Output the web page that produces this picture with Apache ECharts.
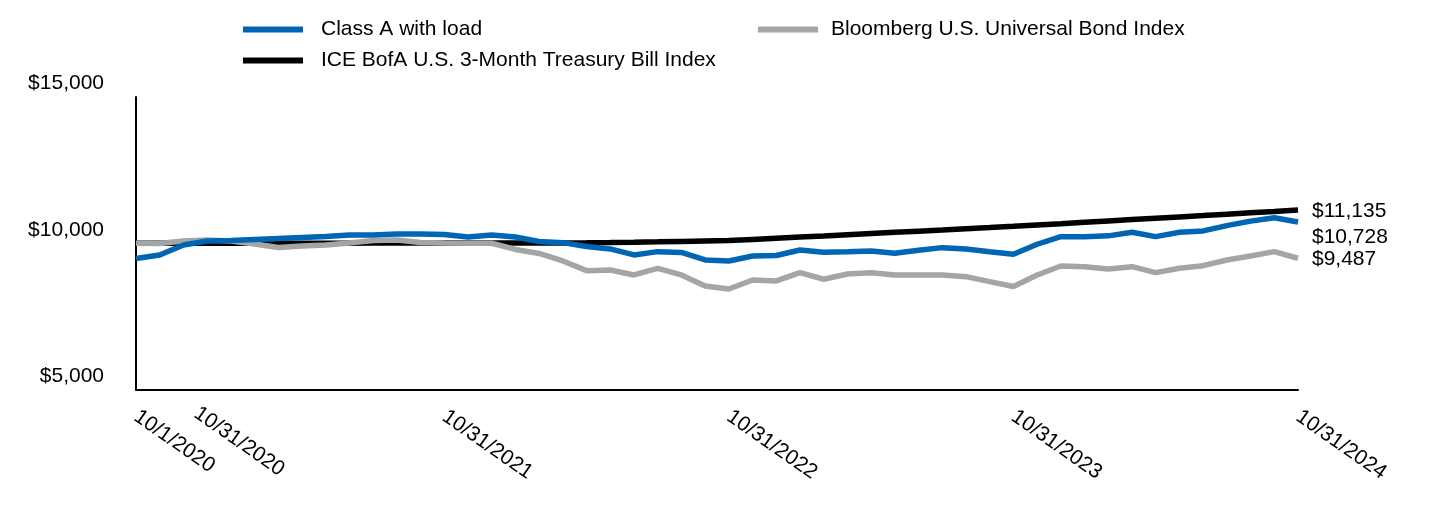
<!DOCTYPE html>
<html>
<head>
<meta charset="utf-8">
<script src="https://cdn.jsdelivr.net/npm/echarts@6/dist/echarts.min.js"></script>
<style>
  html, body { margin: 0; padding: 0; background: #fff; }
  #chart { width: 1440px; height: 516px; }
</style>
</head>
<body>
<div id="chart"></div>
<script>
const dates = ['10/1/2020','10/31/2020','11/30/2020','12/31/2020','1/31/2021','2/28/2021','3/31/2021','4/30/2021','5/31/2021','6/30/2021','7/31/2021','8/31/2021','9/30/2021','10/31/2021','11/30/2021','12/31/2021','1/31/2022','2/28/2022','3/31/2022','4/30/2022','5/31/2022','6/30/2022','7/31/2022','8/31/2022','9/30/2022','10/31/2022','11/30/2022','12/31/2022','1/31/2023','2/28/2023','3/31/2023','4/30/2023','5/31/2023','6/30/2023','7/31/2023','8/31/2023','9/30/2023','10/31/2023','11/30/2023','12/31/2023','1/31/2024','2/29/2024','3/31/2024','4/30/2024','5/31/2024','6/30/2024','7/31/2024','8/31/2024','9/30/2024','10/31/2024'];
const tickLabels = ['10/1/2020','10/31/2020','10/31/2021','10/31/2022','10/31/2023','10/31/2024'];
const classA = [9480,9600,9942,10079,10096,10130,10164,10198,10232,10284,10284,10318,10318,10301,10215,10284,10215,10062,10021,9891,9805,9600,9713,9685,9429,9395,9566,9583,9771,9692,9713,9737,9658,9761,9850,9805,9713,9624,9966,10226,10226,10253,10376,10226,10376,10421,10602,10756,10872,10728];
const bloomberg = [10000,9993,10079,10113,10079,9976,9856,9908,9942,10010,10096,10113,10027,10010,10000,10000,9788,9651,9395,9063,9087,8916,9138,8916,8540,8437,8745,8711,8995,8769,8950,8995,8916,8916,8916,8858,8687,8523,8916,9224,9200,9121,9200,8995,9145,9234,9429,9566,9713,9487];
const tbill = [10000,10001,10002,10002,10003,10003,10003,10004,10004,10004,10005,10005,10005,10005,10006,10006,10007,10008,10012,10018,10025,10035,10048,10062,10076,10090,10130,10170,10210,10250,10291,10332,10373,10414,10455,10497,10538,10580,10625,10670,10716,10762,10808,10854,10900,10946,10993,11040,11087,11135];
const yTicks = { min: 5000, max: 15000, interval: 5000 };
const names = ['Class A with load', 'Bloomberg U.S. Universal Bond Index', 'ICE BofA U.S. 3-Month Treasury Bill Index'];

const FONT = "'Liberation Sans', Arial, sans-serif";
const FS = 21;
const fmt = v => '$' + Number(v).toLocaleString('en-US');

const xData = dates.map(d => d === '10/31/2020'
  ? { value: d, textStyle: { verticalAlign: 'bottom', padding: [0, 0, 13, 28] } }
  : d);

const legendCommon = (padLeft) => ({
  itemWidth: 60, itemHeight: 6, icon: 'rect', selectedMode: false, padding: 0,
  textStyle: { fontFamily: FONT, fontSize: FS, color: '#000', padding: [0, 0, 0, padLeft] }
});

const chart = echarts.init(document.getElementById('chart'), null, { renderer: 'canvas' });
chart.setOption({
  animation: false,
  textStyle: { fontFamily: FONT },
  legend: [
    Object.assign({ left: 243, top: 19, data: [names[0]] }, legendCommon(13)),
    Object.assign({ left: 758, top: 19, data: [names[1]] }, legendCommon(8)),
    Object.assign({ left: 243, top: 50, data: [names[2]] }, legendCommon(13))
  ],
  grid: { left: 136, right: 142, top: 97, bottom: 126.5, outerBoundsMode: 'none' },
  xAxis: {
    type: 'category',
    data: xData,
    boundaryGap: false,
    axisLine: { show: true, lineStyle: { color: '#000', width: 2 } },
    axisTick: { show: false },
    splitLine: { show: false },
    axisLabel: {
      interval: (i, v) => tickLabels.includes(v),
      rotate: -35,
      margin: 25,
      fontSize: FS,
      color: '#000',
      fontFamily: FONT
    }
  },
  yAxis: {
    type: 'value',
    min: yTicks.min, max: yTicks.max, interval: yTicks.interval,
    axisLine: { show: true, lineStyle: { color: '#000', width: 2 } },
    axisTick: { show: false },
    splitLine: { show: false },
    axisLabel: {
      formatter: fmt,
      margin: 32,
      fontSize: FS,
      color: '#000',
      fontFamily: FONT,
      verticalAlign: 'bottom',
      lineHeight: 27
    }
  },
  series: [
    {
      name: names[2], type: 'line', data: tbill, symbol: 'none', z: 2,
      lineStyle: { color: '#000000', width: 5.5 }, itemStyle: { color: '#000000' },
      endLabel: { show: true, formatter: p => fmt(p.value), fontSize: FS, color: '#000', distance: 14, offset: [0, 1], fontFamily: FONT }
    },
    {
      name: names[1], type: 'line', data: bloomberg, symbol: 'none', z: 3,
      lineStyle: { color: '#a2a6a6', width: 5.5 }, itemStyle: { color: '#a2a6a6' },
      endLabel: { show: true, formatter: p => fmt(p.value), fontSize: FS, color: '#000', distance: 14, offset: [0, 1], fontFamily: FONT }
    },
    {
      name: names[0], type: 'line', data: classA, symbol: 'none', z: 4,
      lineStyle: { color: '#0066b3', width: 5.5 }, itemStyle: { color: '#0066b3' },
      endLabel: { show: true, formatter: p => fmt(p.value), fontSize: FS, color: '#000', distance: 14, offset: [0, 15], fontFamily: FONT }
    }
  ]
});
</script>
</body>
</html>
